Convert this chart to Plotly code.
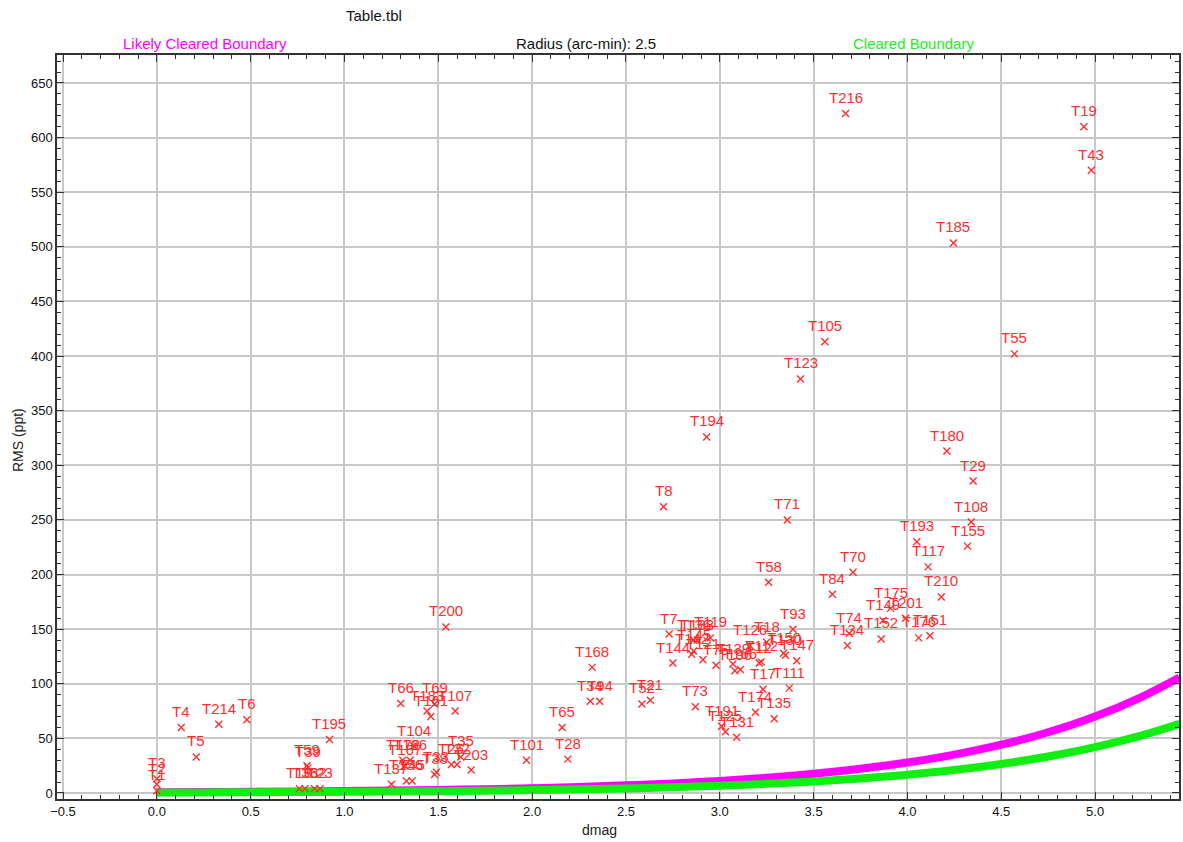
import plotly.graph_objects as go

# ---- data ----
names = ["T1","T2","T3","T4","T5","T214","T6","T59","T39","T13","T36","T32","T23","T195",
         "T137","T156","T45","T172","T166","T167","T104","T66","T69","T183","T161","T107","T200",
         "T38","T33","T25","T22","T35","T203","T101","T65","T28","T168","T34","T94","T52","T21",
         "T8","T7","T144","T73","T136","T133","T119","T142","T145","T121","T194","T75","T191",
         "T125","T131","T139","T196","T106","T126","T12","T112","T17","T174","T18","T58","T135",
         "T150","T130","T111","T71","T93","T147","T123","T105","T84","T216","T134","T74","T70",
         "T152","T149","T175","T201","T193","T176","T117","T151","T210","T180","T185","T155",
         "T29","T108","T55","T19","T43"]
dmag = [0.00,0.00,0.00,0.13,0.21,0.33,0.48,0.80,0.805,0.76,0.79,0.84,0.87,0.92,
        1.25,1.33,1.36,1.31,1.35,1.32,1.37,1.30,1.48,1.44,1.46,1.59,1.54,
        1.48,1.49,1.57,1.60,1.62,1.675,1.97,2.16,2.19,2.32,2.31,2.36,2.585,2.63,
        2.70,2.73,2.75,2.87,2.86,2.88,2.95,2.85,2.86,2.91,2.93,2.98,3.01,
        3.03,3.09,3.07,3.08,3.11,3.16,3.21,3.22,3.23,3.19,3.25,3.26,3.29,
        3.34,3.35,3.37,3.36,3.39,3.41,3.43,3.56,3.60,3.67,3.68,3.69,3.71,
        3.86,3.87,3.91,3.99,4.05,4.06,4.11,4.12,4.18,4.21,4.245,4.32,
        4.35,4.34,4.57,4.94,4.98]
rms = [2,8,13,60,33,63,67,25,23,4,4,4,4,49,
       8,11,11,30,30,25,43,82,81.5,75,70,75,152,
       17,19,26,26,33,21,30,60,31,115,84,84,81.5,85,
       262,145.5,119,79,140,140,142,127,130,122,326,117,61,
       56,51,118,112,113,135,119,120,95,74,138,193,68,
       128,126,96,250,150,121,379,413,182,622,135,146,202,
       141,158,169,160,230,142,207,144,179.5,313,503.5,226,
       285.6,248,402,610,570]

bound_x = [0, 0.25, 0.5, 0.75, 1.0, 1.25, 1.5, 1.75, 2.0, 2.25, 2.5, 2.75, 3.0,
           3.25, 3.5, 3.75, 4.0, 4.25, 4.5, 4.75, 5.0, 5.25, 5.45]
likely_cleared = [0.70, 0.88, 1.11, 1.40, 1.76, 2.21, 2.79, 3.51, 4.42, 5.56, 7.0, 8.8, 11.1,
                  14.0, 17.6, 22.2, 27.9, 35.1, 44.2, 55.6, 70.0, 88.1, 105.7]
cleared = [0.42, 0.53, 0.67, 0.84, 1.06, 1.33, 1.67, 2.10, 2.65, 3.34, 4.2, 5.3, 6.7,
           8.4, 10.6, 13.3, 16.7, 21.0, 26.5, 33.4, 42.0, 52.8, 63.4]

RED = "#ff2d2d"
FONT = "Arial, Liberation Sans, sans-serif"

fig = go.Figure()
fig.add_trace(go.Scatter(x=bound_x, y=likely_cleared, mode="lines",
                         line=dict(color="#ff00ff", width=8, shape="spline"),
                         hoverinfo="skip", showlegend=False))
fig.add_trace(go.Scatter(x=bound_x, y=cleared, mode="lines",
                         line=dict(color="#11ee11", width=8, shape="spline"),
                         hoverinfo="skip", showlegend=False))
fig.add_trace(go.Scatter(x=dmag, y=rms, mode="markers", text=names,
                         marker=dict(symbol="x-thin-open", size=7, color=RED,
                                     line=dict(color=RED, width=1.4)),
                         showlegend=False))

annotations = []
for n, xv, yv in zip(names, dmag, rms):
    annotations.append(dict(x=xv, y=yv, text=n, showarrow=False, yshift=16,
                            font=dict(family=FONT, size=15, color=RED)))

def paper_txt(text, px, py, color, size=15):
    return dict(text=text, xref="paper", yref="paper",
                x=(px - 57) / 1124, y=(799 - py) / 744,
                showarrow=False, xanchor="center", yanchor="middle",
                font=dict(family=FONT, size=size, color=color))

annotations += [
    paper_txt("Table.tbl", 375, 16, "#111111"),
    paper_txt("Likely Cleared Boundary", 205, 43, "#ff00ff"),
    paper_txt("Radius (arc-min): 2.5", 587, 43, "#111111"),
    paper_txt("Cleared Boundary", 915, 43, "#22ee22"),
    paper_txt("dmag", 600, 830, "#222222", 14),
]
annotations.append(dict(text="RMS (ppt)", xref="paper", yref="paper",
                        x=(18 - 57) / 1124, y=(799 - 440) / 744, textangle=-90,
                        showarrow=False, xanchor="center", yanchor="middle",
                        font=dict(family=FONT, size=14, color="#222222")))

axis_common = dict(showgrid=True, gridcolor="#c8c8c8", gridwidth=1.5,
                   zeroline=False, showline=True, linecolor="#333333", linewidth=1.5,
                   mirror="ticks", ticks="inside", ticklen=7, tickwidth=1.2,
                   tickcolor="#333333",
                   tickfont=dict(family=FONT, size=13, color="#111111"))

fig.update_xaxes(range=[-0.532, 5.447], dtick=0.5, tick0=0, tickformat=".1f",
                 minor=dict(ticks="inside", dtick=0.1, ticklen=4, tickcolor="#333333",
                            showgrid=False),
                 **axis_common)
fig.update_yaxes(range=[-5.5, 675.6], dtick=50, tick0=0,
                 minor=dict(ticks="inside", dtick=10, ticklen=4, tickcolor="#333333",
                            showgrid=False),
                 **axis_common)

fig.update_layout(width=1183, height=842,
                  margin=dict(l=57, r=2, t=55, b=43),
                  paper_bgcolor="white", plot_bgcolor="white",
                  annotations=annotations, showlegend=False,
                  font=dict(family=FONT))

fig.write_html("out.html", config={"displayModeBar": False},
               post_script="document.body.style.margin='0';")
